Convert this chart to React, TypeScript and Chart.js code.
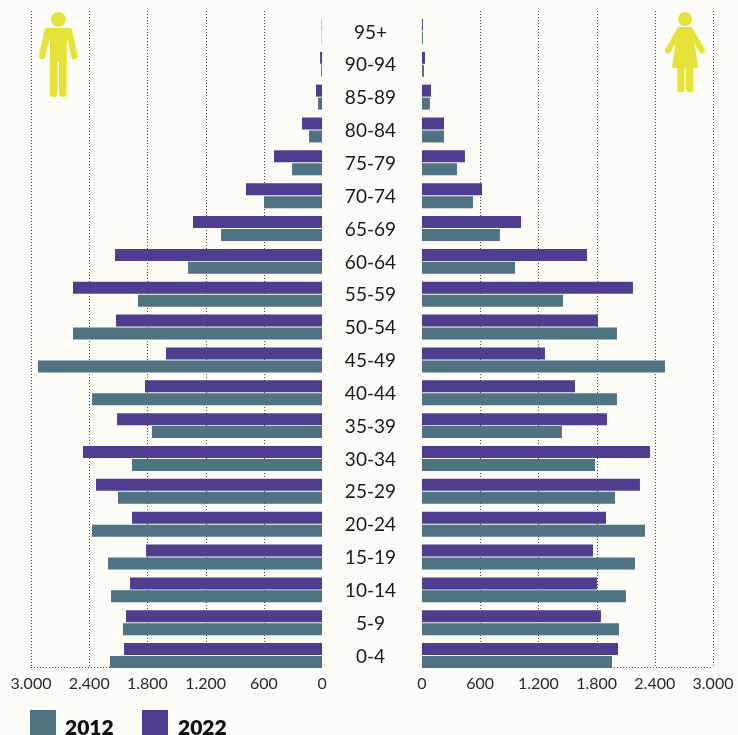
import React, { useEffect, useRef } from "react";
import { Chart, registerables } from "chart.js";

Chart.register(...registerables);

const ageGroups = ["95+","90-94","85-89","80-84","75-79","70-74","65-69","60-64","55-59","50-54","45-49","40-44","35-39","30-34","25-29","20-24","15-19","10-14","5-9","0-4"];
const men2022 = [3,20,62,206,495,784,1330,2134,2567,2124,1608,1825,2113,2464,2330,1959,1814,1979,2021,2041];
const men2012 = [3,10,41,134,309,598,1041,1381,1897,2567,2928,2371,1753,1959,2103,2371,2206,2175,2052,2186];
const women2022 = [10,31,93,227,443,619,1021,1701,2175,1814,1268,1577,1907,2351,2247,1897,1763,1804,1845,2021];
const women2012 = [10,21,82,227,361,526,804,959,1454,2010,2505,2010,1443,1784,1990,2299,2196,2103,2031,1959];
const tickValues = [0,600,1200,1800,2400,3000];

const BG = "#fcfbf6";
const TEAL = "#507381";
const PURPLE = "#4f3e90";
const YELLOW = "#e5e23a";
const FONT = "Lato";

const fmt = (v: any) => String(v).replace(/(\d)(\d{3})$/, "$1.$2");

const dottedGrid = {
  id: "dottedGrid",
  beforeDatasetsDraw(chart: any) {
    const { ctx } = chart;
    const top = 11, bottom = 667;
    ctx.save();
    ctx.strokeStyle = "#444";
    ctx.lineWidth = 1;
    ctx.setLineDash([1, 2]);
    for (const id of ["xL", "xR"]) {
      const s = chart.scales[id];
      const px = tickValues.map((v) => s.getPixelForValue(v));
      for (const x of px) {
        if (x === s.getPixelForValue(0)) continue;
        ctx.beginPath();
        ctx.moveTo(Math.round(x) + 0.5, top);
        ctx.lineTo(Math.round(x) + 0.5, bottom);
        ctx.stroke();
      }
      ctx.beginPath();
      ctx.moveTo(Math.min(...px), bottom + 0.5);
      ctx.lineTo(Math.max(...px), bottom + 0.5);
      ctx.stroke();
    }
    ctx.restore();
  },
};

const xAxis = (reverse: boolean) => ({
  type: "linear",
  axis: "x",
  position: "bottom",
  stack: "pyramid",
  stackWeight: 1,
  reverse,
  min: -515,
  max: 3000,
  grid: { display: false, drawTicks: false, tickLength: 0 },
  border: { display: false },
  afterBuildTicks: (s: any) => { s.ticks = tickValues.map((value) => ({ value })); },
  afterFit: (s: any) => { s.height = 24; },
  ticks: {
    autoSkip: false,
    maxRotation: 0,
    padding: 2,
    color: "#2a2a2a",
    font: { family: FONT, size: 16 },
    callback: fmt,
  },
});

export default function App() {
  const ref = useRef<HTMLCanvasElement | null>(null);
  useEffect(() => {
    document.body.style.margin = "0";
    document.body.style.background = BG;
    document.body.style.overflow = "hidden";
    const bar = { categoryPercentage: 0.79, barPercentage: 0.925, borderWidth: 0, yAxisID: "y" };
    const chart = new Chart(ref.current as HTMLCanvasElement, {
      type: "bar",
      plugins: [dottedGrid],
      data: {
        labels: ageGroups,
        datasets: [
          { label: "Men 2022", data: men2022, backgroundColor: PURPLE, xAxisID: "xL", stack: "y2022", ...bar },
          { label: "Men 2012", data: men2012, backgroundColor: TEAL, xAxisID: "xL", stack: "y2012", ...bar },
          { label: "Women 2022", data: women2022, backgroundColor: PURPLE, xAxisID: "xR", stack: "y2022", ...bar },
          { label: "Women 2012", data: women2012, backgroundColor: TEAL, xAxisID: "xR", stack: "y2012", ...bar },
        ],
      },
      options: {
        indexAxis: "y",
        responsive: false,
        animation: false,
        layout: { padding: { top: 15, left: 31, right: 25, bottom: 39 } },
        plugins: { legend: { display: false }, tooltip: { enabled: false } },
        scales: {
          xL: xAxis(true),
          xR: xAxis(false),
          y: {
            type: "category",
            position: "left",
            grid: { display: false, drawTicks: false, tickLength: 0 },
            border: { display: false },
            afterFit: (s: any) => {
              s.width = 0;
              s._computeLabelArea = () => undefined;
              if (!s._labelShifted) {
                s._labelShifted = true;
                const compute = s._computeLabelItems.bind(s);
                s._computeLabelItems = (area: any) => {
                  const items = compute(area);
                  items.forEach((it: any) => { it.options.translation[1] += 1; });
                  return items;
                };
              }
            },
            ticks: {
              autoSkip: false,
              crossAlign: "center",
              padding: -365,
              color: "#1a1a1a",
              font: { family: FONT, size: 19 },
            },
          },
        },
      } as any,
    } as any);
    return () => chart.destroy();
  }, []);

  return (
    <div style={{ position: "relative", width: 738, height: 735, overflow: "hidden", background: BG }}>
      <canvas ref={ref} width={738} height={735} style={{ position: "absolute", left: 0, top: 0, display: "block" }} />
      <svg width={738} height={735} style={{ position: "absolute", left: 0, top: 0 }}>
        <g fill={YELLOW} stroke="none">
          <circle cx={58.3} cy={19.3} r={7.4} />
          <path d="M48 28 H68.5 L72 33 L66.7 42 V62 H50 V42 L45 33 Z" />
          <line x1={47.6} y1={31} x2={42.2} y2={56} stroke={YELLOW} strokeWidth={6.4} strokeLinecap="round" />
          <line x1={69} y1={31} x2={74.4} y2={56} stroke={YELLOW} strokeWidth={6.4} strokeLinecap="round" />
          <rect x={49.8} y={55} width={7.8} height={42} rx={3.4} />
          <rect x={59} y={55} width={7.8} height={42} rx={3.4} />
          <circle cx={685} cy={19} r={7} />
          <path d="M678 27 H692 L698.3 67.7 H672 Z" />
          <line x1={680} y1={30} x2={668} y2={50.5} stroke={YELLOW} strokeWidth={6} strokeLinecap="round" />
          <line x1={690} y1={30} x2={702} y2={50.5} stroke={YELLOW} strokeWidth={6} strokeLinecap="round" />
          <rect x={677.3} y={62} width={7.3} height={30.3} rx={3.2} />
          <rect x={686} y={62} width={7.3} height={30.3} rx={3.2} />
        </g>
      </svg>
      <div style={{ position: "absolute", left: 30, top: 710, width: 26, height: 26, background: TEAL }} />
      <div style={{ position: "absolute", left: 65, top: 714, font: `800 21px ${FONT}`, color: "#111" }}>2012</div>
      <div style={{ position: "absolute", left: 142, top: 710, width: 26, height: 26, background: PURPLE }} />
      <div style={{ position: "absolute", left: 178, top: 714, font: `800 21px ${FONT}`, color: "#111" }}>2022</div>
    </div>
  );
}
